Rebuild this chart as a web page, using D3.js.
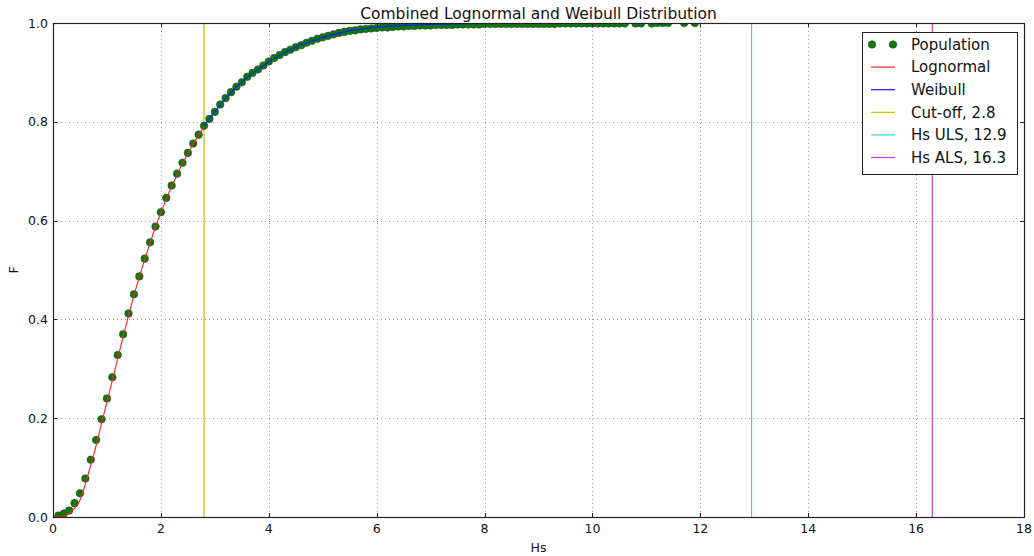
<!DOCTYPE html>
<html>
<head>
<meta charset="utf-8">
<script src="https://cdn.jsdelivr.net/npm/d3@7"></script>
<style>
  html, body { margin: 0; padding: 0; background: #fff; }
  svg { display: block; font-family: "DejaVu Sans", sans-serif; }
</style>
</head>
<body>
<svg id="chart" width="1034" height="556"></svg>
<script>
// ---------- data ----------
const popHs = [
  0.1,0.2,0.3,0.4,0.5,0.6,0.7,0.8,0.9,1.0,
  1.1,1.2,1.3,1.4,1.5,1.6,1.7,1.8,1.9,2.0,
  2.1,2.2,2.3,2.4,2.5,2.6,2.7,2.8,2.9,3.0,
  3.1,3.2,3.3,3.4,3.5,3.6,3.7,3.8,3.9,4.0,
  4.1,4.2,4.3,4.4,4.5,4.6,4.7,4.8,4.9,5.0,
  5.1,5.2,5.3,5.4,5.5,5.6,5.7,5.8,5.9,6.0,
  6.1,6.2,6.3,6.4,6.5,6.6,6.7,6.8,6.9,7.0,
  7.1,7.2,7.3,7.4,7.5,7.6,7.7,7.8,7.9,8.0,
  8.1,8.2,8.3,8.4,8.5,8.6,8.7,8.8,8.9,9.0,
  9.1,9.2,9.3,9.4,9.5,9.6,9.7,9.8,9.9,10.0,
  10.1,10.2,10.3,10.4,10.5,10.6,
  10.8,10.9,11.1,11.2,11.3,11.4,11.7,11.9
];
const popF = [
  0.003,0.007,0.013,0.028,0.048,0.078,0.116,0.156,0.198,0.240,
  0.283,0.328,0.370,0.412,0.451,0.487,0.523,0.556,0.588,0.617,
  0.646,0.671,0.695,0.717,0.737,0.756,0.774,0.792,0.806,0.820,
  0.835,0.848,0.860,0.871,0.880,0.891,0.899,0.906,0.914,0.922,
  0.929,0.935,0.941,0.946,0.951,0.955,0.960,0.964,0.968,0.971,
  0.974,0.977,0.980,0.982,0.984,0.985,0.987,0.988,0.989,0.990,
  0.991,0.991,0.992,0.993,0.993,0.994,0.994,0.995,0.995,0.995,
  0.996,0.996,0.996,0.996,0.997,0.997,0.997,0.997,0.997,0.998,
  0.998,0.998,0.998,0.998,0.998,0.998,0.998,0.998,0.998,0.998,
  0.998,0.998,0.998,0.999,0.999,0.999,0.999,0.999,0.999,0.999,
  0.999,0.999,0.999,0.999,0.999,0.999,
  0.999,0.999,0.999,1.0,1.0,1.0,1.0,1.0
];

const lognHs = [0,0.1,0.2,0.3,0.4,0.5,0.6,0.7,0.8,0.9,1.0,1.1,1.2,1.3,1.4,1.5,1.6,1.7,1.8,1.9,2.0,2.1,2.2,2.3,2.4,2.5,2.6,2.7,2.8];
const lognF  = [0,0.0003,0.002,0.0075,0.018,0.034,0.067,0.105,0.145,0.19,0.233,0.277,0.321,0.365,0.408,0.448,0.486,0.521,0.555,0.587,0.616,0.644,0.669,0.693,0.715,0.736,0.755,0.773,0.790];

const weibHs = [2.8,3.0,3.2,3.4,3.6,3.8,4.0,4.2,4.4,4.6,4.8,5.0,5.2,5.4,5.6,5.8,6.0,6.5,7.0,7.5,8.0,9.0,10.0,12.0];
const weibF  = [0.792,0.820,0.847,0.870,0.890,0.906,0.921,0.935,0.946,0.956,0.964,0.971,0.977,0.982,0.986,0.989,0.9915,0.995,0.997,0.998,0.999,0.9996,0.9999,1.0];

const vlineNames  = ["Cut-off", "Hs ULS", "Hs ALS"];
const vlineValues = [2.8, 12.95, 16.3];
const vlineLabels = ["2.8", "12.9", "16.3"];

const xTicks = [0,2,4,6,8,10,12,14,16,18];
const yTicks = [0.0,0.2,0.4,0.6,0.8,1.0];

const titleText = "Combined Lognormal and Weibull Distribution";
const xLabel = "Hs";
const yLabel = "F";

// ---------- layout ----------
const W = 1034, H = 556;
const m = {left: 53, right: 10, top: 23, bottom: 39};
const pw = W - m.left - m.right, ph = H - m.top - m.bottom;

const svg = d3.select("#chart");
const x = d3.scaleLinear().domain([0, 18]).range([m.left, m.left + pw]);
const y = d3.scaleLinear().domain([0, 1]).range([m.top + ph, m.top]);

svg.append("defs").append("clipPath").attr("id", "plotclip")
  .append("rect").attr("x", m.left).attr("y", m.top).attr("width", pw).attr("height", ph);

// grid
const grid = svg.append("g");
grid.selectAll("line.gx").data(xTicks).join("line")
  .attr("x1", d => Math.round(x(d)) + 0.5).attr("x2", d => Math.round(x(d)) + 0.5)
  .attr("y1", m.top).attr("y2", m.top + ph)
  .attr("stroke", "#9a9a9a").attr("stroke-width", 1).attr("stroke-dasharray", "1,3");
grid.selectAll("line.gy").data(yTicks).join("line")
  .attr("y1", d => Math.round(y(d)) + 0.5).attr("y2", d => Math.round(y(d)) + 0.5)
  .attr("x1", m.left).attr("x2", m.left + pw)
  .attr("stroke", "#9a9a9a").attr("stroke-width", 1).attr("stroke-dasharray", "1,3");

const plot = svg.append("g").attr("clip-path", "url(#plotclip)");

const vColors = ["#bfbf00", "#2ed8d8", "#cc44cc"];
plot.selectAll("line.v").data(vlineValues).join("line")
  .attr("x1", d => x(d)).attr("x2", d => x(d))
  .attr("y1", m.top).attr("y2", m.top + ph)
  .attr("stroke", (d, i) => vColors[i]).attr("stroke-width", 1.2);

plot.selectAll("circle.pop").data(popHs.map((h, i) => [h, popF[i]])).join("circle")
  .attr("cx", d => x(d[0])).attr("cy", d => y(d[1])).attr("r", 3.8)
  .attr("fill", "#0a7a0a").attr("stroke", "#2f4f2f").attr("stroke-width", 0.6);

const line = d3.line().x(d => x(d[0])).y(d => y(d[1])).curve(d3.curveMonotoneX);
plot.append("path").datum(lognHs.map((h, i) => [h, lognF[i]]))
  .attr("d", line).attr("fill", "none").attr("stroke", "#ff2020").attr("stroke-width", 1.1);
plot.append("path").datum(weibHs.map((h, i) => [h, weibF[i]]))
  .attr("d", line).attr("fill", "none").attr("stroke", "#1a1aff").attr("stroke-width", 1.1);

// frame
svg.append("rect").attr("x", m.left + 0.5).attr("y", m.top + 0.5).attr("width", pw).attr("height", ph)
  .attr("fill", "none").attr("stroke", "#222").attr("stroke-width", 1.2);

// ticks (inward, all four sides)
const tk = svg.append("g").attr("stroke", "#222").attr("stroke-width", 1);
xTicks.forEach(t => {
  const xx = Math.round(x(t)) + 0.5;
  tk.append("line").attr("x1", xx).attr("x2", xx).attr("y1", m.top + ph).attr("y2", m.top + ph - 4);
  tk.append("line").attr("x1", xx).attr("x2", xx).attr("y1", m.top).attr("y2", m.top + 4);
});
yTicks.forEach(t => {
  const yy = Math.round(y(t)) + 0.5;
  tk.append("line").attr("y1", yy).attr("y2", yy).attr("x1", m.left).attr("x2", m.left + 4);
  tk.append("line").attr("y1", yy).attr("y2", yy).attr("x1", m.left + pw).attr("x2", m.left + pw - 4);
});

// tick labels
svg.append("g").selectAll("text").data(xTicks).join("text")
  .attr("x", d => x(d)).attr("y", m.top + ph + 16)
  .attr("text-anchor", "middle").attr("font-size", 12.5).attr("fill", "#111")
  .text(d => d3.format("d")(d));
svg.append("g").selectAll("text").data(yTicks).join("text")
  .attr("x", m.left - 5).attr("y", d => y(d) + 4.5)
  .attr("text-anchor", "end").attr("font-size", 12.5).attr("fill", "#111")
  .text(d => d3.format(".1f")(d));

// title & axis labels
svg.append("text").attr("x", m.left + pw / 2).attr("y", 19)
  .attr("text-anchor", "middle").attr("font-size", 15.5).attr("fill", "#111").text(titleText);
svg.append("text").attr("x", m.left + pw / 2).attr("y", 552)
  .attr("text-anchor", "middle").attr("font-size", 12.5).attr("fill", "#111").text(xLabel);
svg.append("text").attr("transform", `translate(18, ${m.top + ph / 2}) rotate(-90)`)
  .attr("text-anchor", "middle").attr("font-size", 12.5).attr("fill", "#111").text(yLabel);

// legend
const lg = svg.append("g").attr("transform", "translate(862,32)");
lg.append("rect").attr("x", 0.5).attr("y", 0.5).attr("width", 155).attr("height", 142)
  .attr("fill", "#fff").attr("stroke", "#222").attr("stroke-width", 1);
const legItems = [
  {label: "Population", type: "dots", color: "#0a7a0a"},
  {label: "Lognormal", type: "line", color: "#ff2020"},
  {label: "Weibull", type: "line", color: "#1a1aff"}
].concat(vlineNames.map((n, i) => ({label: `${n}, ${vlineLabels[i]}`, type: "line", color: vColors[i]})));
legItems.forEach((it, i) => {
  const cy = 12.5 + i * 22.6;
  if (it.type === "dots") {
    [10, 31].forEach(cx => lg.append("circle").attr("cx", cx).attr("cy", cy).attr("r", 3.8)
      .attr("fill", it.color).attr("stroke", "#2f4f2f").attr("stroke-width", 0.6));
  } else {
    lg.append("line").attr("x1", 9).attr("x2", 33).attr("y1", cy).attr("y2", cy)
      .attr("stroke", it.color).attr("stroke-width", 1.2);
  }
  lg.append("text").attr("x", 49).attr("y", cy + 5.3).attr("font-size", 15).attr("fill", "#111").text(it.label);
});
</script>
</body>
</html>
